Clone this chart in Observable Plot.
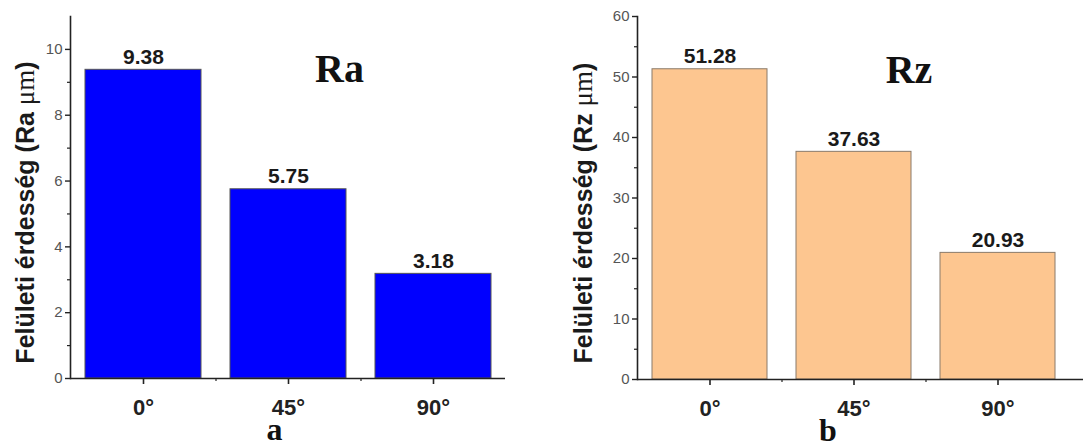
<!DOCTYPE html>
<html><head><meta charset="utf-8">
<script src="https://cdn.jsdelivr.net/npm/d3@7"></script>
<script src="https://cdn.jsdelivr.net/npm/@observablehq/plot@0.6"></script>
<style>
body{margin:0;background:#fff;}
#wrap{display:flex;width:1083px;height:448px;overflow:hidden;}
#wrap svg{flex:none;}
</style></head><body><div id="wrap"></div>
<script>
const angles = ["0°", "45°", "90°"];
const raValues = [9.38, 5.75, 3.18];
const rzValues = [51.28, 37.63, 20.93];
const raTicks = [0, 2, 4, 6, 8, 10];
const raMinor = [1, 3, 5, 7, 9];
const rzTicks = [0, 10, 20, 30, 40, 50, 60];
const rzMinor = [5, 15, 25, 35, 45, 55];
const raLabel = "Felületi érdesség (Ra μm)";
const rzLabel = "Felületi érdesség (Rz μm)";

const SANS = "'Liberation Sans', Arial, sans-serif";
const SERIF = "'Liberation Serif', 'Times New Roman', serif";

function chart(o) {
  const data = angles.map((a, i) => ({angle: a, value: o.values[i]}));
  const range = o.width - o.ml - o.mr;
  const step = range / (angles.length - 0.2 + 2 * o.po);
  const svg = Plot.plot({
    width: o.width, height: 448,
    marginLeft: o.ml, marginRight: o.mr, marginTop: 16, marginBottom: 70 - o.mbAdj,
    style: {fontFamily: SANS, background: "#fff", overflow: "visible"},
    x: {domain: angles, paddingInner: 0.2, paddingOuter: o.po, align: o.align, axis: null},
    y: {domain: [0, o.ymax], axis: null},
    marks: [
      Plot.barY(data, {x: "angle", y: "value", fill: o.fill, stroke: o.stroke, strokeWidth: 1}),
      Plot.ruleY([0], {stroke: "#222", strokeWidth: 1.6}),
      Plot.frame({anchor: "left", stroke: "#222", strokeWidth: 1.6}),
      Plot.axisY(o.ticks, {tickSize: 5, tickPadding: 3, fontSize: 15, fill: "#555", stroke: "#222", strokeWidth: 1.4, label: null}),
      Plot.axisY(o.minor, {tickSize: 3, text: null, stroke: "#222", strokeWidth: 1.2, label: null}),
      Plot.axisX({tickSize: 6, tickPadding: 15, fontSize: 22, fontWeight: "bold", fill: "#222", stroke: "#222", strokeWidth: 1.6, label: null}),
      Plot.axisX(angles.slice(0, -1), {tickSize: 3, text: null, dx: step / 2, stroke: "#222", strokeWidth: 1.2, label: null}),
      Plot.text(data, {x: "angle", y: "value", text: d => d.value.toFixed(2), dy: -13, fontSize: 21, fontWeight: "bold", fill: "#1a1a1a"}),
      Plot.text([o.tag], {x: () => "45°", y: () => o.tagY, dx: o.tagDx, fontFamily: SERIF, fontWeight: "bold", fontSize: 40, fill: "#111"}),
      Plot.text([o.panel], {x: () => "45°", frameAnchor: "bottom", dx: o.panelDx, dy: 61, fontFamily: SERIF, fontWeight: "bold", fontSize: 32, fill: "#111"}),
      Plot.text([o.ylab], {frameAnchor: "left", textAnchor: "middle", rotate: -90, dx: o.ylabDx, dy: 15, fontSize: 25, fontWeight: "bold", fill: "#1a1a1a"})
    ]
  });
  // mixed font in the axis label: "μm" set in serif regular
  d3.select(svg).selectAll("text").filter(function () { return this.textContent === o.ylab; })
    .each(function () {
      const t = d3.select(this);
      const idx = o.ylab.indexOf("μm");
      t.text(null);
      t.append("tspan").text(o.ylab.slice(0, idx));
      t.append("tspan").attr("font-family", SERIF).attr("font-weight", "normal").attr("font-size", 27).text("μm");
      t.append("tspan").text(o.ylab.slice(idx + 2));
    });
  return svg;
}

const wrap = document.getElementById("wrap");
wrap.appendChild(chart({
  values: raValues, ymax: 11, ticks: raTicks, minor: raMinor,
  fill: "#0000ff", stroke: "#555", tag: "Ra", panel: "a", ylab: raLabel,
  width: 540, ml: 70, mr: 35, po: 0.1, align: 0.5, mbAdj: 0,
  tagY: 9.4, tagDx: 51, panelDx: -14, ylabDx: -45
}));
wrap.appendChild(chart({
  values: rzValues, ymax: 60, ticks: rzTicks, minor: rzMinor,
  fill: "#fdc690", stroke: "#8a7a6a", tag: "Rz", panel: "b", ylab: rzLabel,
  width: 543, ml: 97, mr: 0, po: 0.1486, align: 0.35, mbAdj: 1,
  tagY: 51.2, tagDx: 55, panelDx: -26, ylabDx: -54
}));
</script>
</body></html>
